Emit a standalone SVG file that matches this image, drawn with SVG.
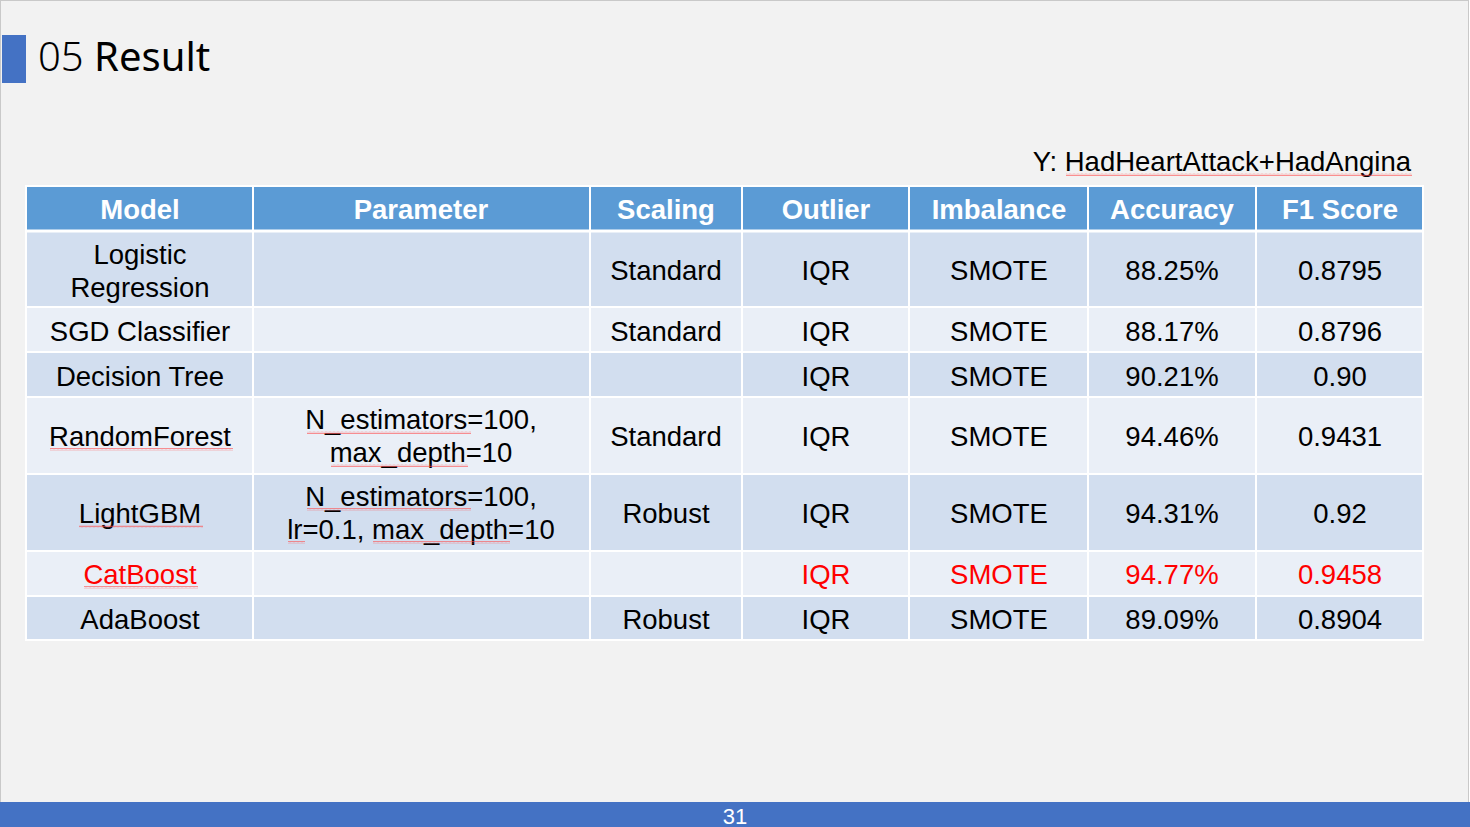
<svg xmlns="http://www.w3.org/2000/svg" width="1470" height="827" viewBox="0 0 1470 827">
<style>
.hd{font-family:"Liberation Sans",Arial,sans-serif;font-size:27.5px;font-weight:bold;fill:#fff;text-anchor:middle}
.c{font-family:"Liberation Sans",Arial,sans-serif;font-size:27.5px;fill:#000;text-anchor:middle}
.r{fill:#ff0000}
.dk{fill:#d2deef}
.lt{fill:#eaeff7}
.sq{fill:url(#wave)}
.grid{stroke:#fff;stroke-width:2;fill:none}
</style>
<defs>
<pattern id="wave" patternUnits="userSpaceOnUse" width="4" height="3">
<path d="M0 2.3 L1 0.7 L2 2.3 L3 0.7 L4 2.3" fill="none" stroke="#ff4a4a" stroke-width="0.6"/>
</pattern>
</defs>
<rect x="0.5" y="0.5" width="1468" height="826" fill="#f2f2f2" stroke="#c9c9c9"/>
<g id="title">
<rect x="2" y="35" width="24" height="48" fill="#4472c4"/>
<text x="38" y="71" font-family="'Noto Sans',sans-serif" font-size="40" fill="#000"><tspan font-weight="300">05</tspan> <tspan font-weight="400">Result</tspan></text>
</g>
<g id="ylabel">
<text x="1411" y="171" font-family="'Liberation Sans',Arial,sans-serif" font-size="27.5" text-anchor="end">Y: HadHeartAttack+HadAngina</text>
<rect class="sq" x="1066" y="173" width="346" height="3"/>
</g>
<g id="table">
<rect x="26" y="186" width="1397" height="44" fill="#5b9bd5"/>
<rect class="dk" x="26" y="230" width="1397" height="77"/>
<rect class="lt" x="26" y="307" width="1397" height="45"/>
<rect class="dk" x="26" y="352" width="1397" height="45"/>
<rect class="lt" x="26" y="397" width="1397" height="77"/>
<rect class="dk" x="26" y="474" width="1397" height="77"/>
<rect class="lt" x="26" y="551" width="1397" height="45"/>
<rect class="dk" x="26" y="596" width="1397" height="44"/>
<path class="grid" d="M253 186V640M590 186V640M742 186V640M909 186V640M1088 186V640M1256 186V640M26 307H1423M26 352H1423M26 397H1423M26 474H1423M26 551H1423M26 596H1423"/>
<path d="M26 231H1423" stroke="#fff" stroke-width="3"/>
<rect x="26" y="186" width="1397" height="454" fill="none" stroke="#fff" stroke-width="2"/>
</g>
<g id="header">
<text class="hd" x="140" y="219">Model</text>
<text class="hd" x="421" y="219">Parameter</text>
<text class="hd" x="666" y="219">Scaling</text>
<text class="hd" x="826" y="219">Outlier</text>
<text class="hd" x="999" y="219">Imbalance</text>
<text class="hd" x="1172" y="219">Accuracy</text>
<text class="hd" x="1340" y="219">F1 Score</text>
</g>
<g id="row-logistic">
<text class="c" x="140" y="264">Logistic</text>
<text class="c" x="140" y="297">Regression</text>
<text class="c" x="666" y="280">Standard</text>
<text class="c" x="826" y="280">IQR</text>
<text class="c" x="999" y="280">SMOTE</text>
<text class="c" x="1172" y="280">88.25%</text>
<text class="c" x="1340" y="280">0.8795</text>
</g>
<g id="row-sgd">
<text class="c" x="140" y="341">SGD Classifier</text>
<text class="c" x="666" y="341">Standard</text>
<text class="c" x="826" y="341">IQR</text>
<text class="c" x="999" y="341">SMOTE</text>
<text class="c" x="1172" y="341">88.17%</text>
<text class="c" x="1340" y="341">0.8796</text>
</g>
<g id="row-dt">
<text class="c" x="140" y="386">Decision Tree</text>
<text class="c" x="826" y="386">IQR</text>
<text class="c" x="999" y="386">SMOTE</text>
<text class="c" x="1172" y="386">90.21%</text>
<text class="c" x="1340" y="386">0.90</text>
</g>
<g id="row-rf">
<text class="c" x="140" y="446">RandomForest</text>
<rect class="sq" x="50" y="448" width="183" height="3"/>
<text class="c" x="421" y="429">N_estimators=100,</text>
<rect class="sq" x="307" y="431" width="164" height="3"/>
<text class="c" x="421" y="462">max_depth=10</text>
<rect class="sq" x="331" y="464" width="137" height="3"/>
<text class="c" x="666" y="446">Standard</text>
<text class="c" x="826" y="446">IQR</text>
<text class="c" x="999" y="446">SMOTE</text>
<text class="c" x="1172" y="446">94.46%</text>
<text class="c" x="1340" y="446">0.9431</text>
</g>
<g id="row-lgbm">
<text class="c" x="140" y="523">LightGBM</text>
<rect class="sq" x="79" y="525" width="124" height="3"/>
<text class="c" x="421" y="506">N_estimators=100,</text>
<rect class="sq" x="307" y="508" width="164" height="3"/>
<text class="c" x="421" y="539">lr=0.1, max_depth=10</text>
<rect class="sq" x="288" y="541" width="17" height="3"/>
<rect class="sq" x="373" y="541" width="137" height="3"/>
<text class="c" x="666" y="523">Robust</text>
<text class="c" x="826" y="523">IQR</text>
<text class="c" x="999" y="523">SMOTE</text>
<text class="c" x="1172" y="523">94.31%</text>
<text class="c" x="1340" y="523">0.92</text>
</g>
<g id="row-catboost">
<text class="c r" x="140" y="584">CatBoost</text>
<rect class="sq" x="84" y="586" width="114" height="3"/>
<text class="c r" x="826" y="584">IQR</text>
<text class="c r" x="999" y="584">SMOTE</text>
<text class="c r" x="1172" y="584">94.77%</text>
<text class="c r" x="1340" y="584">0.9458</text>
</g>
<g id="row-ada">
<text class="c" x="140" y="629">AdaBoost</text>
<text class="c" x="666" y="629">Robust</text>
<text class="c" x="826" y="629">IQR</text>
<text class="c" x="999" y="629">SMOTE</text>
<text class="c" x="1172" y="629">89.09%</text>
<text class="c" x="1340" y="629">0.8904</text>
</g>
<g id="footer">
<rect x="0" y="802" width="1470" height="25" fill="#4472c4"/>
<text x="735" y="824" font-family="'Liberation Sans',Arial,sans-serif" font-size="22" fill="#fff" text-anchor="middle">31</text>
</g>
</svg>
